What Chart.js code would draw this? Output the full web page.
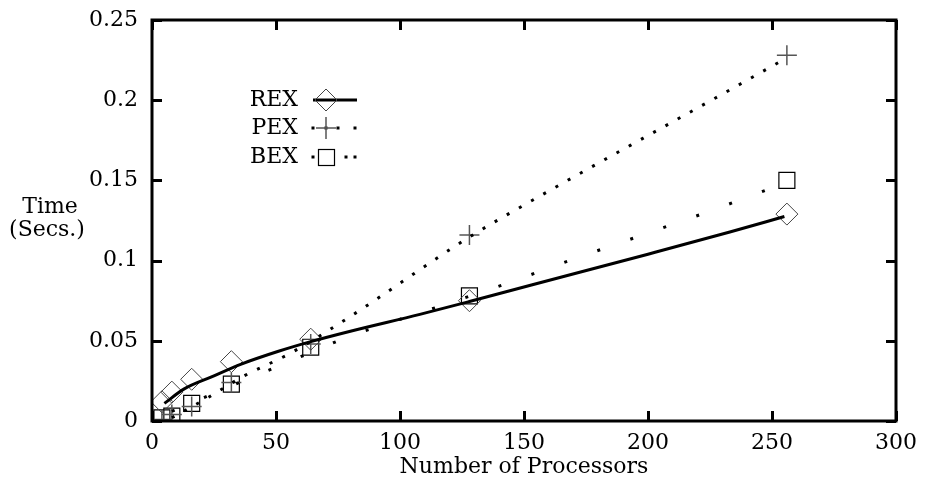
<!DOCTYPE html>
<html>
<head>
<meta charset="utf-8">
<script src="https://cdn.jsdelivr.net/npm/chart.js@4/dist/chart.umd.min.js"></script>
<style>
  html, body { margin: 0; padding: 0; background: #fff; }
  canvas { display: block; }
</style>
</head>
<body>
<canvas id="c" width="925" height="495"></canvas>
<script>
// ── measured points ──
var procs    = [4, 8, 16, 32, 64, 128, 256];
var rexTimes = [0.012, 0.018, 0.026, 0.037, 0.051, 0.075, 0.129];
var pexTimes = [0.001, 0.004, 0.009, 0.024, 0.048, 0.116, 0.228];
var bexTimes = [0.002, 0.003, 0.011, 0.023, 0.046, 0.078, 0.150];

// ── fitted curves ──
var rexFitX = [5, 13, 24, 36, 51, 64, 80, 108, 128, 153, 200, 233, 255];
var rexFitY = [0.011, 0.020, 0.0275, 0.0355, 0.0435, 0.0495, 0.0560, 0.0665, 0.0745, 0.0848, 0.1040, 0.1178, 0.1275];
var pexFitX = [8, 23, 37, 56, 79, 128, 155, 225, 253];
var pexFitY = [0.002, 0.015, 0.028, 0.0424, 0.0642, 0.1147, 0.139, 0.1995, 0.2238];
var bexFitX = [8, 28, 55, 80, 93, 120, 133, 146, 159, 225, 250];
var bexFitY = [0.006, 0.0193, 0.0368, 0.053, 0.0598, 0.0736, 0.0804, 0.0873, 0.0948, 0.1309, 0.1453];

// ── axes ──
var xTicks = [0, 50, 100, 150, 200, 250, 300];
var yTicks = [0, 0.05, 0.1, 0.15, 0.2, 0.25];
var xTitle = "Number of Processors";
var yTitle = ["Time", "(Secs.)"];
var seriesNames = ["REX", "PEX", "BEX"];

var FONT = "DejaVu Serif";

function pts(xs, ys) {
  return xs.map(function(x, i) { return { x: x, y: ys[i] }; });
}

// gnuplot style: frame, inward ticks on all sides, horizontal y title, key
var gnuplotDecor = {
  id: "gnuplotDecor",
  afterDatasetsDraw: function(chart) {
    var ctx = chart.ctx, a = chart.chartArea;
    var xs = chart.scales.x, ys = chart.scales.y;
    ctx.save();
    ctx.strokeStyle = "#000";
    ctx.lineWidth = 3;
    ctx.beginPath();
    yTicks.forEach(function(v) {
      var py = Math.round(ys.getPixelForValue(v)) + 0.5;
      ctx.moveTo(a.left, py); ctx.lineTo(a.left + 10, py);
      ctx.moveTo(a.right, py); ctx.lineTo(a.right - 10, py);
    });
    xTicks.forEach(function(v) {
      var px = Math.round(xs.getPixelForValue(v)) + 0.5;
      ctx.moveTo(px, a.bottom); ctx.lineTo(px, a.bottom - 10);
      ctx.moveTo(px, a.top); ctx.lineTo(px, a.top + 10);
    });
    ctx.stroke();
    ctx.strokeRect(a.left, a.top, a.right - a.left, a.bottom - a.top);

    // titles
    ctx.fillStyle = "#000";
    ctx.font = "22px '" + FONT + "'";
    ctx.textAlign = "center";
    ctx.textBaseline = "middle";
    ctx.fillText(yTitle[0], 50, 207);
    ctx.fillText(yTitle[1], 47, 230);
    ctx.fillText(xTitle, (a.left + a.right) / 2, 467);

    // key
    var rows = [100, 128, 157];
    ctx.textAlign = "right";
    seriesNames.forEach(function(name, i) {
      ctx.fillStyle = "#000";
      ctx.fillText(name, 298, rows[i]);
    });
    // REX sample
    ctx.lineWidth = 3;
    ctx.beginPath(); ctx.moveTo(313, rows[0]); ctx.lineTo(357, rows[0]); ctx.stroke();
    ctx.lineWidth = 1;
    ctx.strokeStyle = "#444";
    ctx.beginPath();
    ctx.moveTo(326, rows[0] - 11); ctx.lineTo(337, rows[0]);
    ctx.lineTo(326, rows[0] + 11); ctx.lineTo(315, rows[0]); ctx.closePath();
    ctx.stroke();
    // PEX sample
    ctx.fillStyle = "#000";
    [313, 326, 338, 355].forEach(function(x) { ctx.fillRect(x - 1.5, rows[1] - 1.5, 3, 3); });
    ctx.strokeStyle = "#555"; ctx.lineWidth = 1.5;
    ctx.beginPath();
    ctx.moveTo(316, rows[1]); ctx.lineTo(336, rows[1]);
    ctx.moveTo(326, rows[1] - 11); ctx.lineTo(326, rows[1] + 11);
    ctx.stroke();
    // BEX sample
    [313, 346, 355].forEach(function(x) { ctx.fillRect(x - 1.5, rows[2] - 1.5, 3, 3); });
    ctx.strokeStyle = "#000"; ctx.lineWidth = 1.2;
    ctx.strokeRect(318.5, rows[2] - 7.5, 16, 16);
    ctx.restore();
  }
};

new Chart(document.getElementById("c"), {
  type: "scatter",
  data: {
    datasets: [
      { label: "REX fit", data: pts(rexFitX, rexFitY), showLine: true, borderColor: "#000",
        borderWidth: 3, pointRadius: 0, cubicInterpolationMode: "monotone" },
      { label: "PEX fit", data: pts(pexFitX, pexFitY), showLine: true, borderColor: "#000",
        borderWidth: 3, borderDash: [3, 11], borderCapStyle: "butt", pointRadius: 0,
        cubicInterpolationMode: "monotone" },
      { label: "BEX fit", data: pts(bexFitX, bexFitY), showLine: true, borderColor: "#000",
        borderWidth: 3, borderDash: [3, 32], borderCapStyle: "butt", pointRadius: 0,
        cubicInterpolationMode: "monotone" },
      { label: "REX", data: pts(procs, rexTimes), showLine: false, pointStyle: "rectRot",
        pointRadius: 11, borderColor: "#444", borderWidth: 1, backgroundColor: "rgba(0,0,0,0)" },
      { label: "PEX", data: pts(procs, pexTimes), showLine: false, pointStyle: "crossRot",
        rotation: 45, pointRadius: 10, borderColor: "#555", borderWidth: 1.5,
        backgroundColor: "rgba(0,0,0,0)" },
      { label: "BEX", data: pts(procs, bexTimes), showLine: false, pointStyle: "rect",
        pointRadius: 11.3, borderColor: "#000", borderWidth: 1.2, backgroundColor: "rgba(0,0,0,0)" }
    ]
  },
  options: {
    responsive: false,
    animation: false,
    events: [],
    layout: { padding: { top: 20, right: 29, left: 0, bottom: 0 } },
    plugins: { legend: { display: false }, tooltip: { enabled: false } },
    scales: {
      x: {
        type: "linear", min: 0, max: 300,
        afterBuildTicks: function(s) { s.ticks = xTicks.map(function(v) { return { value: v }; }); },
        afterFit: function(s) { s.height = 74; s.paddingLeft = 0; s.paddingRight = 0; },
        grid: { display: false, drawTicks: false },
        border: { display: false },
        ticks: { color: "#000", padding: 9, maxRotation: 0, font: { family: FONT, size: 22 },
                 callback: function(v) { return String(v); } }
      },
      y: {
        type: "linear", min: 0, max: 0.25,
        afterBuildTicks: function(s) { s.ticks = yTicks.map(function(v) { return { value: v }; }); },
        afterFit: function(s) { s.width = 152; s.paddingTop = 0; s.paddingBottom = 0; },
        grid: { display: false, drawTicks: false },
        border: { display: false },
        ticks: { color: "#000", padding: 14, font: { family: FONT, size: 22 },
                 callback: function(v) { return String(parseFloat(v.toFixed(2))); } }
      }
    }
  },
  plugins: [gnuplotDecor]
});
</script>
</body>
</html>
